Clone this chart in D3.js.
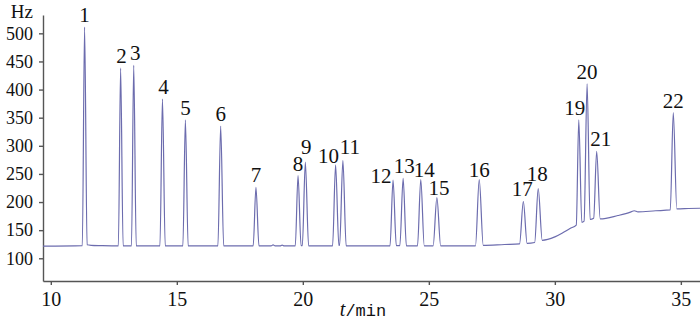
<!DOCTYPE html>
<html>
<head>
<meta charset="utf-8">
<script src="https://cdn.jsdelivr.net/npm/d3@7"></script>
<style>
	body { margin: 0; background: #fff; }
	.axis path, .axis line { stroke: #555; stroke-width: 1.4; }
	.axis text { fill: #111; }
	.serif { font-family: 'Liberation Serif', 'Times New Roman', Times, 'DejaVu Serif', serif; }
	.peak-label { font-size: 21px; fill: #111; }
</style>
</head>
<body>
<div id="chart"></div>
<script>
// peak numbers with retention time (min) and apex signal (Hz)
var peakNames = ['1', '2', '3', '4', '5', '6', '7', '8', '9', '10', '11',
	'12', '13', '14', '15', '16', '17', '18', '19', '20', '21', '22'];
var peakTimes = [11.34, 12.77, 13.29, 14.43, 15.34, 16.74, 18.14, 19.81, 20.10, 21.30, 21.59,
	23.58, 23.98, 24.68, 25.32, 27.00, 28.75, 29.34, 30.95, 31.28, 31.66, 34.70];
var peakHeights = [511, 438, 443, 383, 346, 335, 226, 247, 271, 266, 274,
	239, 242, 240, 208, 240, 201, 224, 346, 410, 290, 359];

// chromatogram trace: [time, signal]
var trace = [
	[9.69, 121.5], [11.25, 122.5], [11.34, 511], [11.44, 124], [11.6, 123], [12.0, 122.5],
	[12.68, 122], [12.77, 438], [12.87, 122],
	[13.2, 122], [13.29, 443], [13.39, 122],
	[14.33, 122], [14.43, 383], [14.54, 122],
	[15.24, 122], [15.34, 346], [15.45, 122],
	[16.63, 122], [16.74, 335], [16.86, 122],
	[18.03, 122], [18.14, 226], [18.26, 122],
	[18.74, 122], [18.82, 124], [18.9, 122], [19.1, 122], [19.18, 123.5], [19.26, 122],
	[19.7, 122], [19.81, 247], [19.93, 122.5],
	[19.98, 122.5], [20.10, 271], [20.23, 122],
	[21.18, 122], [21.30, 266], [21.43, 123],
	[21.46, 123], [21.59, 274], [21.72, 122],
	[23.46, 122], [23.58, 239], [23.71, 122.5],
	[23.85, 122.5], [23.98, 242], [24.11, 122],
	[24.55, 122], [24.68, 240], [24.82, 122],
	[25.17, 122], [25.32, 208], [25.47, 122],
	[26.85, 122], [27.00, 240], [27.16, 123],
	[28.0, 124.5],
	[28.6, 125.5], [28.75, 201], [28.9, 126.5],
	[29.2, 128], [29.34, 224], [29.5, 132],
	[30.0, 138], [30.3, 145], [30.6, 153],
	[30.85, 159], [30.95, 346], [31.07, 164],
	[31.16, 166], [31.28, 410], [31.4, 169],
	[31.54, 171], [31.66, 290], [31.8, 170],
	[32.5, 176], [33.0, 182], [33.15, 184.5], [33.3, 182.5], [34.0, 184.5],
	[34.58, 186], [34.70, 359], [34.84, 188],
	[35.3, 188.5], [35.76, 189]
];

var xTicks = [10, 15, 20, 25, 30, 35];
var yTicks = [100, 150, 200, 250, 300, 350, 400, 450, 500];

// small hand nudges so labels sit where the original put them [dx, dy] px
var labelNudge = {
	'2': [1, 0], '3': [1.5, 0], '4': [1, 0], '9': [1, -3], '10': [-7, 3], '11': [7, -1],
	'12': [-12, 8], '13': [1, 0], '14': [3.5, 2.5], '15': [2, 2], '16': [0, 2],
	'17': [-1, 0], '18': [-1, -3], '19': [-4, 0], '21': [4, 0]
};

var width = 700, height = 324;

var svg = d3.select('#chart').append('svg')
	.attr('width', width)
	.attr('height', height)

var x = d3.scaleLinear().domain([9.69, 35.76]).range([43, 700])
var y = d3.scaleLinear().domain([59.6, 532.6]).range([281, 15])

/* axes */
var yAxisG = svg.append('g')
	.attr('class', 'axis')
	.attr('transform', 'translate(43,0)')
	.call(d3.axisLeft(y).tickValues(yTicks).tickSize(4).tickSizeOuter(0).tickPadding(6))
yAxisG.selectAll('text')
	.attr('class', 'serif')
	.attr('font-family', null)
	.style('font-size', '18px')

var xAxisG = svg.append('g')
	.attr('class', 'axis')
	.attr('transform', 'translate(0,281)')
	.call(d3.axisBottom(x).tickValues(xTicks).tickSize(4).tickSizeOuter(0))
xAxisG.selectAll('text')
	.attr('class', 'serif')
	.attr('y', 25)
	.attr('dy', null)
	.style('font-size', '20px')
svg.selectAll('.axis').attr('font-family', null)

svg.append('text')
	.attr('class', 'serif')
	.attr('x', 33)
	.attr('y', 18)
	.attr('text-anchor', 'end')
	.style('font-size', '19px')
	.attr('fill', '#111')
	.text('Hz')

var xLabel = svg.append('text')
	.attr('x', 363)
	.attr('y', 316)
	.attr('text-anchor', 'middle')
	.attr('fill', '#111')
xLabel.append('tspan')
	.attr('class', 'serif')
	.style('font-style', 'italic')
	.style('font-size', '20px')
	.text('t')
xLabel.append('tspan')
	.style('font-family', "'Liberation Mono', 'Courier New', 'DejaVu Sans Mono', monospace")
	.style('font-size', '17px')
	.text('/min')

/* trace */
var line = d3.line()
	.curve(d3.curveMonotoneX)
	.x(function (d) { return x(d[0]) })
	.y(function (d) { return y(d[1]) })

svg.append('path')
	.datum(trace)
	.attr('d', line)
	.attr('fill', 'none')
	.attr('stroke', '#6c6cae')
	.attr('stroke-width', 1.2)

/* peak numbers */
svg.selectAll('.peak-label')
	.data(peakNames)
	.enter().append('text')
	.attr('class', 'peak-label serif')
	.attr('text-anchor', 'middle')
	.attr('x', function (d, i) { return x(peakTimes[i]) + (labelNudge[d] ? labelNudge[d][0] : 0) })
	.attr('y', function (d, i) { return y(peakHeights[i]) - 5 + (labelNudge[d] ? labelNudge[d][1] : 0) })
	.text(function (d) { return d })
</script>
</body>
</html>
